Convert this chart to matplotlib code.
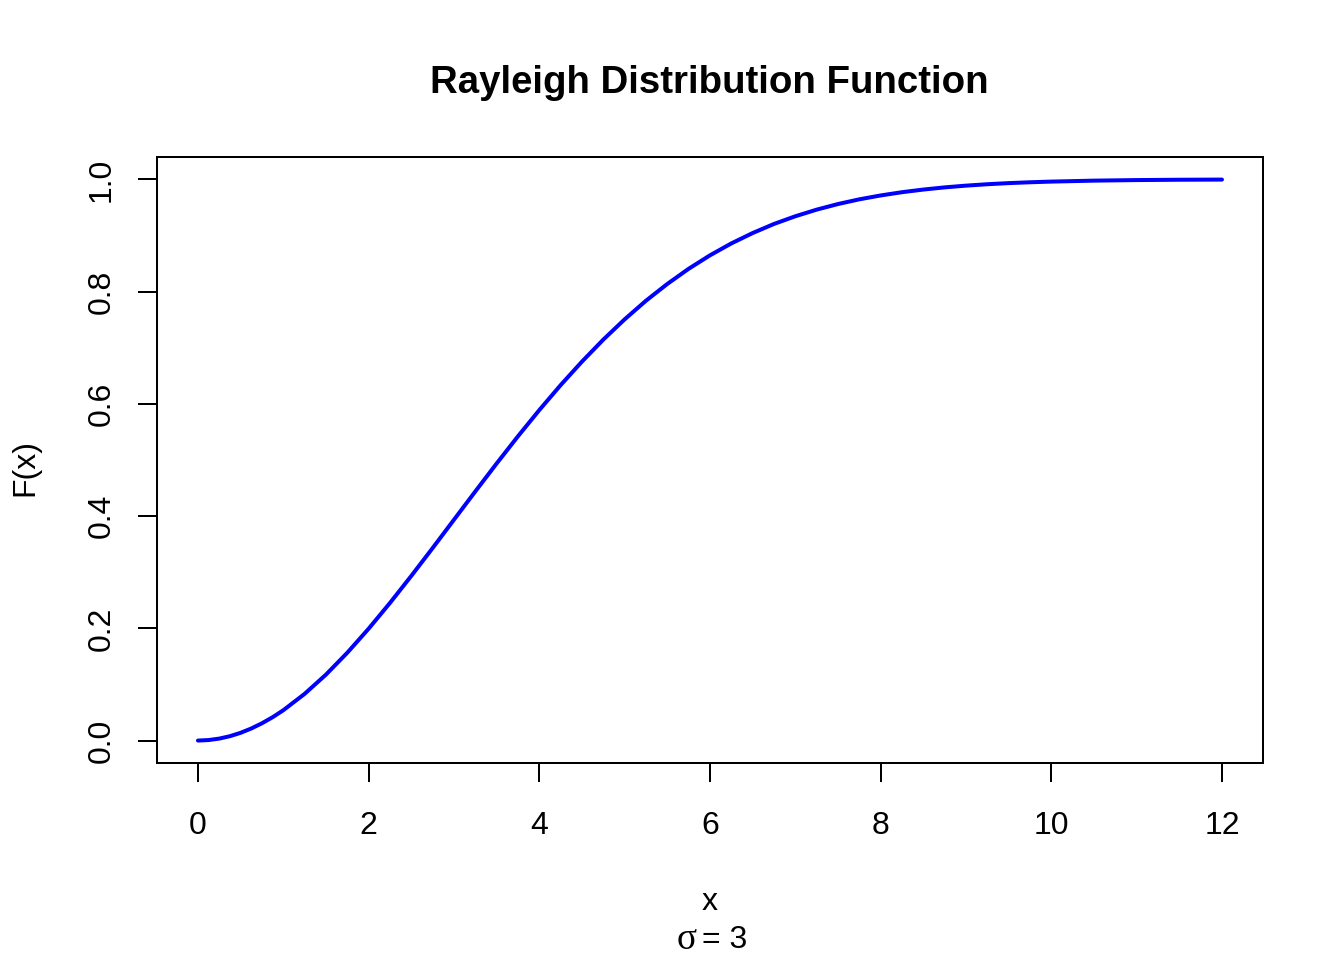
import matplotlib.pyplot as plt

plt.rcParams['font.family'] = ['Liberation Sans', 'DejaVu Sans']

# values
x_vals = [0, 0.125, 0.25, 0.375, 0.5, 0.625, 0.75, 0.875, 1, 1.25, 1.5, 1.75, 2,
          2.25, 2.5, 2.75, 3, 3.25, 3.5, 3.75, 4, 4.25, 4.5, 4.75, 5, 5.25, 5.5,
          5.75, 6, 6.25, 6.5, 6.75, 7, 7.25, 7.5, 7.75, 8, 8.25, 8.5, 8.75, 9,
          9.25, 9.5, 9.75, 10, 10.5, 11, 11.5, 12]
F_vals = [0.0, 0.0009, 0.0035, 0.0078, 0.0138, 0.0215, 0.0308, 0.0416, 0.0540,
          0.0832, 0.1175, 0.1565, 0.1993, 0.2452, 0.2934, 0.3430, 0.3935, 0.4439,
          0.4937, 0.5422, 0.5889, 0.6334, 0.6753, 0.7145, 0.7506, 0.7838, 0.8137,
          0.8407, 0.8647, 0.8859, 0.9044, 0.9206, 0.9343, 0.9461, 0.9561, 0.9645,
          0.9714, 0.9772, 0.9819, 0.9858, 0.9889, 0.9914, 0.9934, 0.9949, 0.9961,
          0.9978, 0.9988, 0.9994, 0.9997]
x_ticks = [0, 2, 4, 6, 8, 10, 12]
y_ticks = [0.0, 0.2, 0.4, 0.6, 0.8, 1.0]

fig = plt.figure(figsize=(7, 5), dpi=192)
ax = fig.add_axes([0.1168, 0.2052, 0.8229, 0.6313])
ax.plot(x_vals, F_vals, color='blue', lw=1.5, solid_capstyle='round')
ax.set_xlim(-0.48, 12.48)
ax.set_ylim(-0.04, 1.04)

ax.set_xticks(x_ticks)
ax.set_xticklabels([str(t) for t in x_ticks])
ax.set_yticks(y_ticks)
ax.set_yticklabels([f'{t:.1f}' for t in y_ticks], rotation=90, va='center')
ax.tick_params(length=7, width=0.75, labelsize=12, pad=11)
ax.tick_params(axis='y', pad=8)
for s in ax.spines.values():
    s.set_linewidth(0.75)

fig.text(0.528, 0.9135, 'Rayleigh Distribution Function', fontsize=14.4,
         fontweight='bold', ha='center', va='center')
fig.text(0.528, 0.0605, 'x', fontsize=12, ha='center', va='center')
fig.text(0.0186, 0.5135, 'F(x)', fontsize=12, ha='center', va='center', rotation=90)
# sub label: sigma in a serif face like R's symbol font
fig.text(0.5185, 0.021, 'σ', fontsize=14, ha='right', va='center',
         family=['Liberation Serif', 'DejaVu Serif'])
fig.text(0.5225, 0.021, '= 3', fontsize=12, ha='left', va='center')

fig.savefig('out.png', dpi=192)
